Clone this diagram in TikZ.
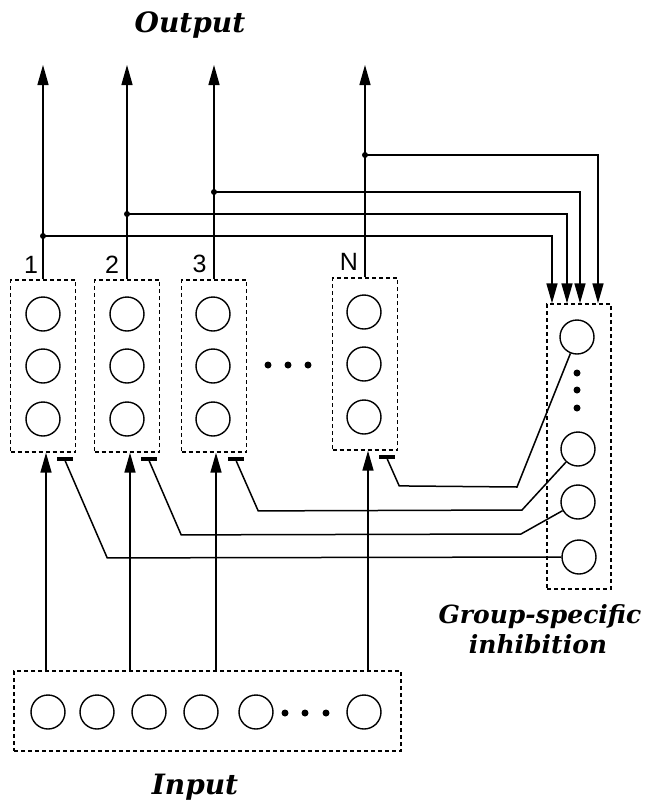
\documentclass[tikz,border=0pt]{standalone}
\usepackage{fontspec}
\setmainfont{DejaVu Serif}
\newfontfamily\labfont{Liberation Sans}
\usetikzlibrary{arrows.meta}
\begin{document}
\begin{tikzpicture}[x=1pt,y=-1pt,
  grp/.style={draw, dash pattern=on 4pt off 3pt, line width=1.4pt, minimum width=65pt, minimum height=172pt, inner sep=0pt},
  neuron/.style={draw, circle, line width=1.4pt, minimum size=34pt, inner sep=0pt},
  dot/.style={fill, circle, inner sep=0pt, minimum size=7pt},
  jdot/.style={fill, circle, inner sep=0pt, minimum size=6pt},
  conn/.style={line width=1.5pt},
  exc/.style={conn, -{Triangle[length=20pt,width=11pt]}},
  title/.style={font=\fontsize{28}{30}\selectfont\bfseries\itshape, anchor=base, inner sep=0pt},
  subtitle/.style={font=\fontsize{25}{30}\selectfont\bfseries\itshape, anchor=base, inner sep=0pt},
  num/.style={font=\labfont\fontsize{25}{25}\selectfont, anchor=base, inner sep=0pt},
  ibar/.style={fill, inner sep=0pt, minimum width=16pt, minimum height=4pt},
]
\useasboundingbox (0,0) rectangle (647,807);

% group boxes
\node[grp] (g1) at (43,366) {};
\node[grp] (g2) at (127,366) {};
\node[grp] (g3) at (214,366) {};
\node[grp] (gN) at (365,364) {};
\foreach \g/\x/\yo in {1/43/0,2/127/0,3/213/0,N/364/-2}{
  \node[neuron] (n\g a) at (\x,314+\yo) {};
  \node[neuron] (n\g b) at (\x,366+\yo) {};
  \node[neuron] (n\g c) at (\x,419+\yo) {};
}
% labels
\node[num] (l1) at (31,273) {1};
\node[num] (l2) at (112,273) {2};
\node[num] (l3) at (199.5,272) {3};
\node[num] (lN) at (349,270) {N};
% dots between groups
\node[dot] (d1) at (268,365) {};
\node[dot] (d2) at (288,365) {};
\node[dot] (d3) at (308,365) {};

% inhibition box
\node[grp, minimum width=64pt, minimum height=285pt] (gi) at (579,446.5) {};
\node[neuron] (h1) at (577,337) {};
\node[neuron] (h2) at (578,449) {};
\node[neuron] (h3) at (578,502) {};
\node[neuron] (h4) at (579,557) {};
\node[dot] (v1) at (577,373) {};
\node[dot] (v2) at (577,390) {};
\node[dot] (v3) at (577,408) {};

% input box
\node[grp, minimum width=387pt, minimum height=80pt] (gin) at (207.5,711) {};
\foreach \k/\x in {1/48,2/97,3/149,4/201,5/256,6/364}
  \node[neuron] (u\k) at (\x,712) {};
\node[dot] (e1) at (285,713) {};
\node[dot] (e2) at (305,713) {};
\node[dot] (e3) at (326,713) {};

% outputs
\foreach \g/\jy in {1/236,2/214,3/192,N/155}{
  \coordinate (o\g) at (g\g.north |- 0,65);
  \coordinate (j\g) at (g\g.north |- 0,\jy);
  \draw[exc] (g\g.north) -- (o\g);
  \node[jdot] (jd\g) at (j\g) {};
}
\coordinate (t1) at (gi.north -| 552,0);
\coordinate (t2) at (gi.north -| 567,0);
\coordinate (t3) at (gi.north -| 580,0);
\coordinate (t4) at (gi.north -| 598,0);
\draw[exc] (j1) -| (t1);
\draw[exc] (j2) -| (t2);
\draw[exc] (j3) -| (t3);
\draw[exc] (jN) -| (t4);

% inputs
\foreach \g/\x in {1/46,2/130,3/216,N/368}{
  \coordinate (i\g) at (gin.north -| \x,0);
  \draw[exc] (i\g) -- (i\g |- g\g.south);
}

% inhibitory bars and connections
\foreach \g in {1,2,3,N}
  \node[ibar] (b\g) at ([xshift=-11pt,yshift=-6pt]g\g.south east) {};
\draw[conn] (b1.south) -- ++(42,97) -- (h4);
\draw[conn] (b2.south) -- ++(32,74) -- (521,534) -- (h3);
\draw[conn] (b3.south) -- ++(22,50) -- (522,510) -- (h2);
\draw[conn] (bN.south) -- ++(12,27) -- (517,487) -- (h1);

% titles
\node[title] (tout) at (190,32) {Output};
\node[title] (tin) at (195,794) {Input};
\node[subtitle] (tg1) at (540,623) {Group-specific};
\node[subtitle] (tg2) at (538,653) {inhibition};
\end{tikzpicture}
\end{document}
